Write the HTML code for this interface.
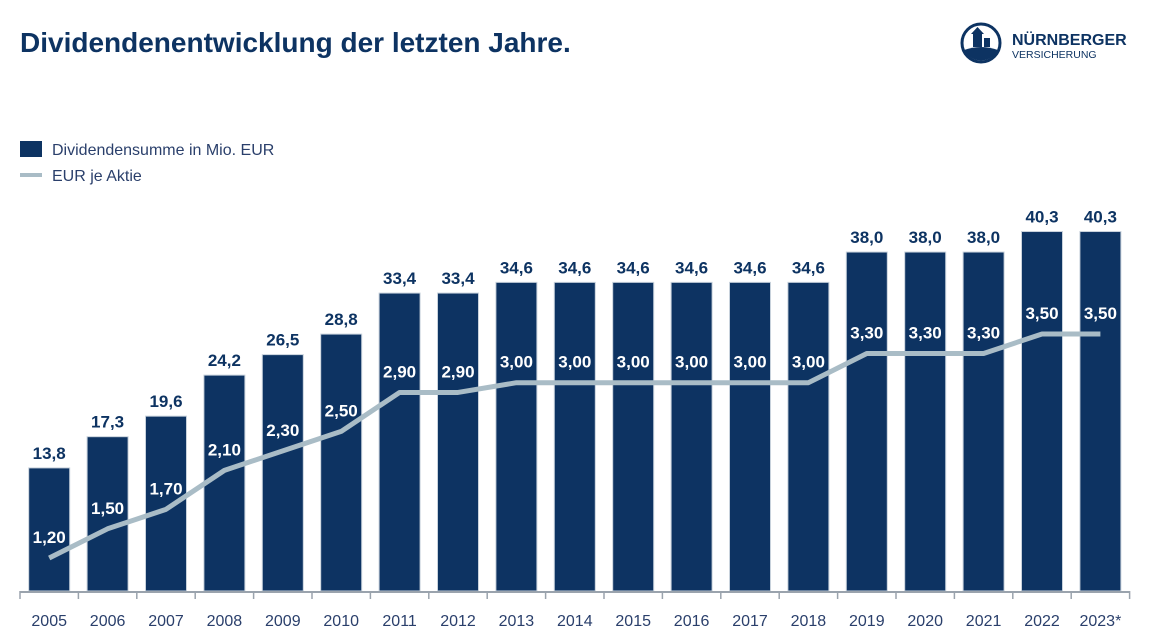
<!DOCTYPE html>
<html><head><meta charset="utf-8"><style>
body{margin:0;background:#fff;font-family:"Liberation Sans",sans-serif;}
#wrap{position:relative;width:1155px;height:635px;overflow:hidden}
</style></head><body>
<div id="wrap">
<svg id="chart" width="1155" height="635">
<text x="20" y="52" font-size="28" font-weight="bold" fill="#0d3362">Dividendenentwicklung der letzten Jahre.</text>
<g>
<circle cx="981" cy="43" r="19" fill="none" stroke="#0d3362" stroke-width="3"/>
<path d="M964,50 Q981,44 998,50 A19,19 0 0 1 964,50Z" fill="#0d3362"/>
<rect x="973" y="33" width="9" height="14" fill="#0d3362"/>
<polygon points="971,34 977.5,27 984,34" fill="#0d3362"/>
<rect x="984" y="38" width="6" height="9" fill="#0d3362"/>
<text x="1012" y="45" font-size="16" font-weight="bold" fill="#0d3362">NÜRNBERGER</text>
<text x="1012" y="58" font-size="10.5" fill="#0d3362">VERSICHERUNG</text>
</g>
<g>
<rect x="20" y="141" width="22" height="16" fill="#0d3362"/>
<text x="52" y="155" font-size="16" fill="#2a3f6b">Dividendensumme in Mio. EUR</text>
<rect x="20" y="173" width="22" height="4" fill="#a9bcc6"/>
<text x="52" y="181" font-size="16" fill="#2a3f6b">EUR je Aktie</text>
</g>
<g id="bars"></g><g id="line"></g><g id="labels"></g><g id="axis"></g>
</svg>
</div>
<script>
const years=["2005","2006","2007","2008","2009","2010","2011","2012","2013","2014","2015","2016","2017","2018","2019","2020","2021","2022","2023*"];
const dividendTotal=[13.8,17.3,19.6,24.2,26.5,28.8,33.4,33.4,34.6,34.6,34.6,34.6,34.6,34.6,38.0,38.0,38.0,40.3,40.3];
const perShare=[1.20,1.50,1.70,2.10,2.30,2.50,2.90,2.90,3.00,3.00,3.00,3.00,3.00,3.00,3.30,3.30,3.30,3.50,3.50];
const NS="http://www.w3.org/2000/svg";
const base=591,x0=20,pitch=58.4,barW=41;
function xc(i){return x0+pitch*(i+0.5);}
function yBar(v){return base-v*8.92;}
function yLine(v){return base-(v*97.4-83.9);}
function fmt(v,d){return v.toFixed(d).replace('.',',');}
function mk(tag,attrs,parent){const e=document.createElementNS(NS,tag);for(const k in attrs)e.setAttribute(k,attrs[k]);document.getElementById(parent).appendChild(e);return e;}
const barsG='bars',labelsG='labels';
dividendTotal.forEach((v,i)=>{
  const r=mk('rect',{x:xc(i)-barW/2,y:yBar(v),width:barW,height:base-yBar(v),fill:'#0d3362',stroke:'#c8d2dc','stroke-width':1},barsG);
  
  
  const t=mk('text',{x:xc(i),y:yBar(v)-9,'font-size':17,'font-weight':'bold',fill:'#0d3362','text-anchor':'middle'},labelsG);
  t.textContent=fmt(v,1);
  
  
});
const pts=perShare.map((v,i)=>xc(i)+','+yLine(v)).join(' ');
const pl=mk('polyline',{points:pts,fill:'none',stroke:'#a9bcc6','stroke-width':5,'stroke-linejoin':'round'},'line');


perShare.forEach((v,i)=>{
  const t=mk('text',{x:xc(i),y:yLine(v)-15,'font-size':17,'font-weight':'bold',fill:'#ffffff','text-anchor':'middle'},labelsG);
  t.textContent=fmt(v,2);
  
  
});
const ax=mk('line',{x1:x0,x2:x0+pitch*years.length,y1:base+1,y2:base+1,stroke:'#9aa3ad','stroke-width':2},'axis');


for(let i=0;i<=years.length;i++){
  const tk=mk('line',{x1:x0+pitch*i,x2:x0+pitch*i,y1:base,y2:base+8,stroke:'#9aa3ad','stroke-width':1.5},'axis');
  
  
}
years.forEach((y,i)=>{
  const t=mk('text',{x:xc(i),y:626,'font-size':16,fill:'#2a3f6b','text-anchor':'middle'},'axis');
  t.textContent=y;
  
  
});
</script>
</body></html>
